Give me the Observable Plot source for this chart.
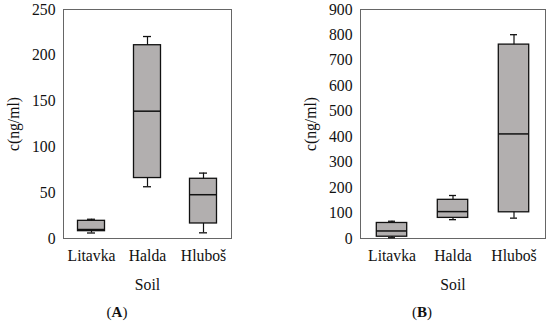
<!DOCTYPE html>
<html><head><meta charset="utf-8">
<script src="https://cdn.jsdelivr.net/npm/d3@7"></script>
<script src="https://cdn.jsdelivr.net/npm/@observablehq/plot@0.6"></script>
<style>
html,body{margin:0;padding:0;background:#fff;}
#wrap{position:relative;width:550px;height:327px;font-family:"Liberation Serif","Times New Roman",serif;color:#111;}
.panel{position:absolute;top:0;}
.panel svg, .panel svg text, .panel svg g {font-family:"Liberation Serif","Times New Roman",serif !important;font-size:15.7px !important;}
.cap{position:absolute;font-size:15px;transform:translateX(-50%);white-space:nowrap;}
</style></head><body>
<div id="wrap">
<div class="panel" id="pA" style="left:0"></div>
<div class="panel" id="pB" style="left:275px"></div>
<div class="cap" style="left:117px;top:304px">(<b>A</b>)</div>
<div class="cap" style="left:422px;top:304px">(<b>B</b>)</div>
</div>
<script>
const soils = ["Litavka", "Halda", "Hluboš"];
// Panel A
const aMin = [6, 56.5, 6.2];
const aQ1 = [8, 66, 16.4];
const aMedian = [9.8, 139, 47.8];
const aQ3 = [19.3, 211, 65.2];
const aMax = [21, 220.5, 71.4];
const aTicks = [0, 50, 100, 150, 200, 250];
// Panel B
const bMin = [3, 74, 80];
const bQ1 = [7, 81, 103];
const bMedian = [29.6, 105.7, 411];
const bQ3 = [61, 152, 762];
const bMax = [67.8, 169, 801];
const bTicks = [0, 100, 200, 300, 400, 500, 600, 700, 800, 900];

function rowsOf(mn, q1, md, q3, mx) {
  return soils.map((s, i) => ({soil: s, min: mn[i], q1: q1[i], median: md[i], q3: q3[i], max: mx[i]}));
}

function panel(rows, ticks, opts) {
  const {width, marginLeft, marginRight, boxInset, capInset} = opts;
  return Plot.plot({
    width, height: 300,
    marginLeft, marginRight, marginTop: 9, marginBottom: 62,
    style: {fontFamily: "Liberation Serif, serif", fontSize: "15.7px", color: "#111", background: "white", overflow: "visible"},
    x: {domain: soils, padding: 0, tickSize: 0, tickPadding: 11, label: "Soil", labelAnchor: "center", labelOffset: 51, labelArrow: "none"},
    y: {domain: [0, ticks[ticks.length - 1]], ticks, tickSize: 0, tickPadding: 8, tickFormat: d => String(d), label: "c(ng/ml)", labelAnchor: "center", labelOffset: opts.labelOffset, labelArrow: "none"},
    marks: [
      Plot.frame({stroke: "#666", strokeWidth: 1}),
      Plot.ruleX(rows, {x: "soil", y1: "min", y2: "max", stroke: "#111", strokeWidth: 1.2}),
      Plot.rectY(rows, {x: "soil", y1: "q1", y2: "q3", fill: "#b2afaf", stroke: "#111", strokeWidth: 1.3, insetLeft: boxInset, insetRight: boxInset}),
      Plot.tickY(rows, {x: "soil", y: "median", stroke: "#111", strokeWidth: 1.5, insetLeft: boxInset, insetRight: boxInset}),
      Plot.tickY(rows, {x: "soil", y: "max", stroke: "#111", strokeWidth: 1.3, insetLeft: capInset, insetRight: capInset}),
      Plot.tickY(rows, {x: "soil", y: "min", stroke: "#111", strokeWidth: 1.3, insetLeft: capInset, insetRight: capInset})
    ]
  });
}

document.getElementById("pA").appendChild(panel(rowsOf(aMin, aQ1, aMedian, aQ3, aMax), aTicks,
  {width: 275, marginLeft: 63, marginRight: 44, boxInset: 14.5, capInset: 24, labelOffset: 56}));
document.getElementById("pB").appendChild(panel(rowsOf(bMin, bQ1, bMedian, bQ3, bMax), bTicks,
  {width: 275, marginLeft: 85, marginRight: 5, boxInset: 15.3, capInset: 27, labelOffset: 56}));
</script>
</body></html>
